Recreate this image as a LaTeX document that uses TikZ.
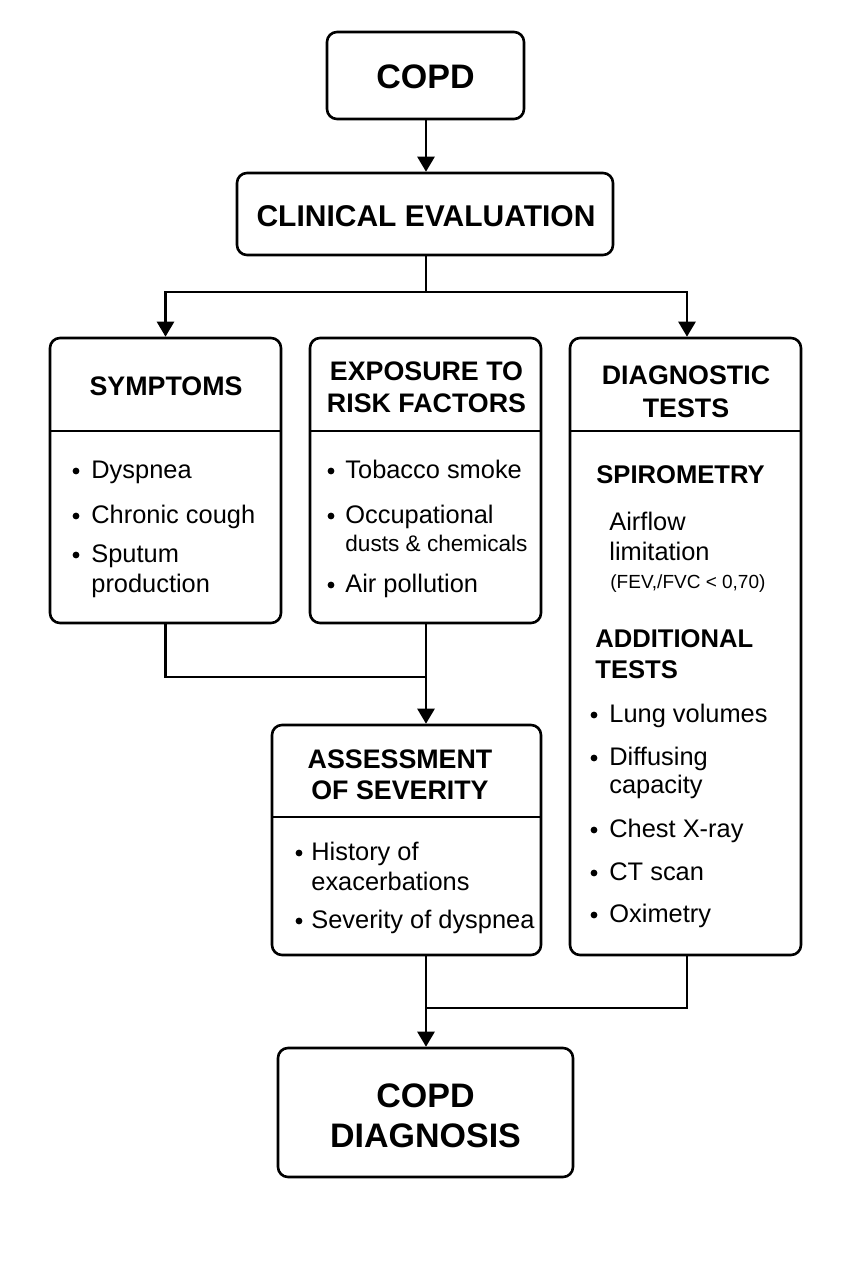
\documentclass[tikz,border=0pt]{standalone}
\usepackage{fontspec}
\setmainfont{Liberation Sans}
\usetikzlibrary{arrows.meta}
\begin{document}
\begin{tikzpicture}[x=0.5pt,y=-0.5pt,
  box/.style={draw,line width=1.3pt,rounded corners=5pt,inner sep=0pt},
  conn/.style={line width=1.3pt},
  arr/.style={conn,-{Triangle[width=8.5pt,length=7.5pt]}},
  big/.style={inner sep=0pt,anchor=base,font=\bfseries\fontsize{17}{20}\selectfont},
  clin/.style={inner sep=0pt,anchor=base,font=\bfseries\fontsize{15}{18}\selectfont},
  head/.style={inner sep=0pt,anchor=base,font=\bfseries\fontsize{13.4}{16}\selectfont},
  subhead/.style={inner sep=0pt,anchor=base west,font=\bfseries\fontsize{12.8}{15}\selectfont},
  txt/.style={inner sep=0pt,anchor=base west,font=\fontsize{12.7}{15}\selectfont},
  small/.style={inner sep=0pt,anchor=base west,font=\fontsize{11.3}{13}\selectfont},
  tiny/.style={inner sep=0pt,anchor=base west,font=\fontsize{9.5}{11}\selectfont},
  bul/.style={fill,radius=1.7pt}
]
\useasboundingbox (0,0) rectangle (853,1280);

% boxes
\node[box,minimum width=98.5pt,minimum height=43.5pt] (copd) at (425.5,75.5) {};
\node[box,minimum width=188pt,minimum height=41pt] (clin) at (425,214) {};
\node[box,minimum width=115.5pt,minimum height=142.5pt] (sym) at (165.5,480.5) {};
\node[box,minimum width=115.5pt,minimum height=142.5pt] (exp) at (425.5,480.5) {};
\node[box,minimum width=115.5pt,minimum height=308.5pt] (diag) at (685.5,646.5) {};
\node[box,minimum width=134.5pt,minimum height=115pt] (asm) at (406.5,840) {};
\node[box,minimum width=147.5pt,minimum height=64.5pt] (dx) at (425.5,1112.5) {};

% dividers
\draw[conn] (50,431) -- (281,431);
\draw[conn] (310,431) -- (541,431);
\draw[conn] (570,431) -- (801,431);
\draw[conn] (272,817) -- (541,817);

% titles
\node[big] (copdT) at (425.5,88) {COPD};
\node[clin] (clinT) at (426,226) {CLINICAL EVALUATION};
\node[head] (symT) at (166,395) {SYMPTOMS};
\node[head] (expT1) at (426.5,380) {EXPOSURE TO};
\node[head] (expT2) at (426.5,412) {RISK FACTORS};
\node[head] (diagT1) at (686,384) {DIAGNOSTIC};
\node[head] (diagT2) at (686,417) {TESTS};
\node[head] (asmT1) at (400,768) {ASSESSMENT};
\node[head] (asmT2) at (400,799) {OF SEVERITY};
\node[big] (dxT1) at (425.5,1107) {COPD};
\node[big] (dxT2) at (425.5,1147) {DIAGNOSIS};

% symptoms
\fill[bul] (76,471) circle;
\node[txt] (s1) at (91,478) {Dyspnea};
\fill[bul] (76,516) circle;
\node[txt] (s2) at (91,523) {Chronic cough};
\fill[bul] (76,555) circle;
\node[txt] (s3) at (91,562) {Sputum};
\node[txt] (s4) at (91,592) {production};

% exposure
\fill[bul] (331,471) circle;
\node[txt] (e1) at (345,478) {Tobacco smoke};
\fill[bul] (331,516) circle;
\node[txt] (e2) at (345,523) {Occupational};
\node[small] (e3) at (345,551) {dusts \& chemicals};
\fill[bul] (331,585) circle;
\node[txt] (e4) at (345,592) {Air pollution};

% diagnostic tests
\node[subhead] (d1) at (596,483) {SPIROMETRY};
\node[txt] (d2) at (609,530) {Airflow};
\node[txt] (d3) at (609,560) {limitation};
\node[tiny] (d4) at (610,588) {(FEV,/FVC < 0,70)};
\node[subhead] (d5) at (595,647) {ADDITIONAL};
\node[subhead] (d6) at (595,678) {TESTS};
\fill[bul] (594,715) circle;
\node[txt] (d7) at (609,722) {Lung volumes};
\fill[bul] (594,758) circle;
\node[txt] (d8) at (609,765) {Diffusing};
\node[txt] (d9) at (609,793) {capacity};
\fill[bul] (594,830) circle;
\node[txt] (d10) at (609,837) {Chest X-ray};
\fill[bul] (594,873) circle;
\node[txt] (d11) at (609,880) {CT scan};
\fill[bul] (594,915) circle;
\node[txt] (d12) at (609,922) {Oximetry};

% assessment
\fill[bul] (299,853) circle;
\node[txt] (a1) at (311,860) {History of};
\node[txt] (a2) at (311,890) {exacerbations};
\fill[bul] (299,921) circle;
\node[txt] (a3) at (311,928) {Severity of dyspnea};

% junctions
\coordinate (j1) at (426,292);
\coordinate (j2) at (426,677);
\coordinate (j3) at (426,1008);

% connectors
\draw[arr] (copd.south -| j1) -- (clin.north -| j1);
\draw[conn] (clin.south -| j1) -- (j1);
\draw[arr] (j1) -| (sym.north);
\draw[arr] (j1) -| ([xshift=0.75pt]diag.north);
\draw[conn] (sym.south) |- (j2);
\draw[arr] (exp.south -| j1) -- (asm.north -| j1);
\draw[conn] ([xshift=0.75pt]diag.south) |- (j3);
\draw[arr] (asm.south -| j1) -- (dx.north -| j1);
\end{tikzpicture}
\end{document}
